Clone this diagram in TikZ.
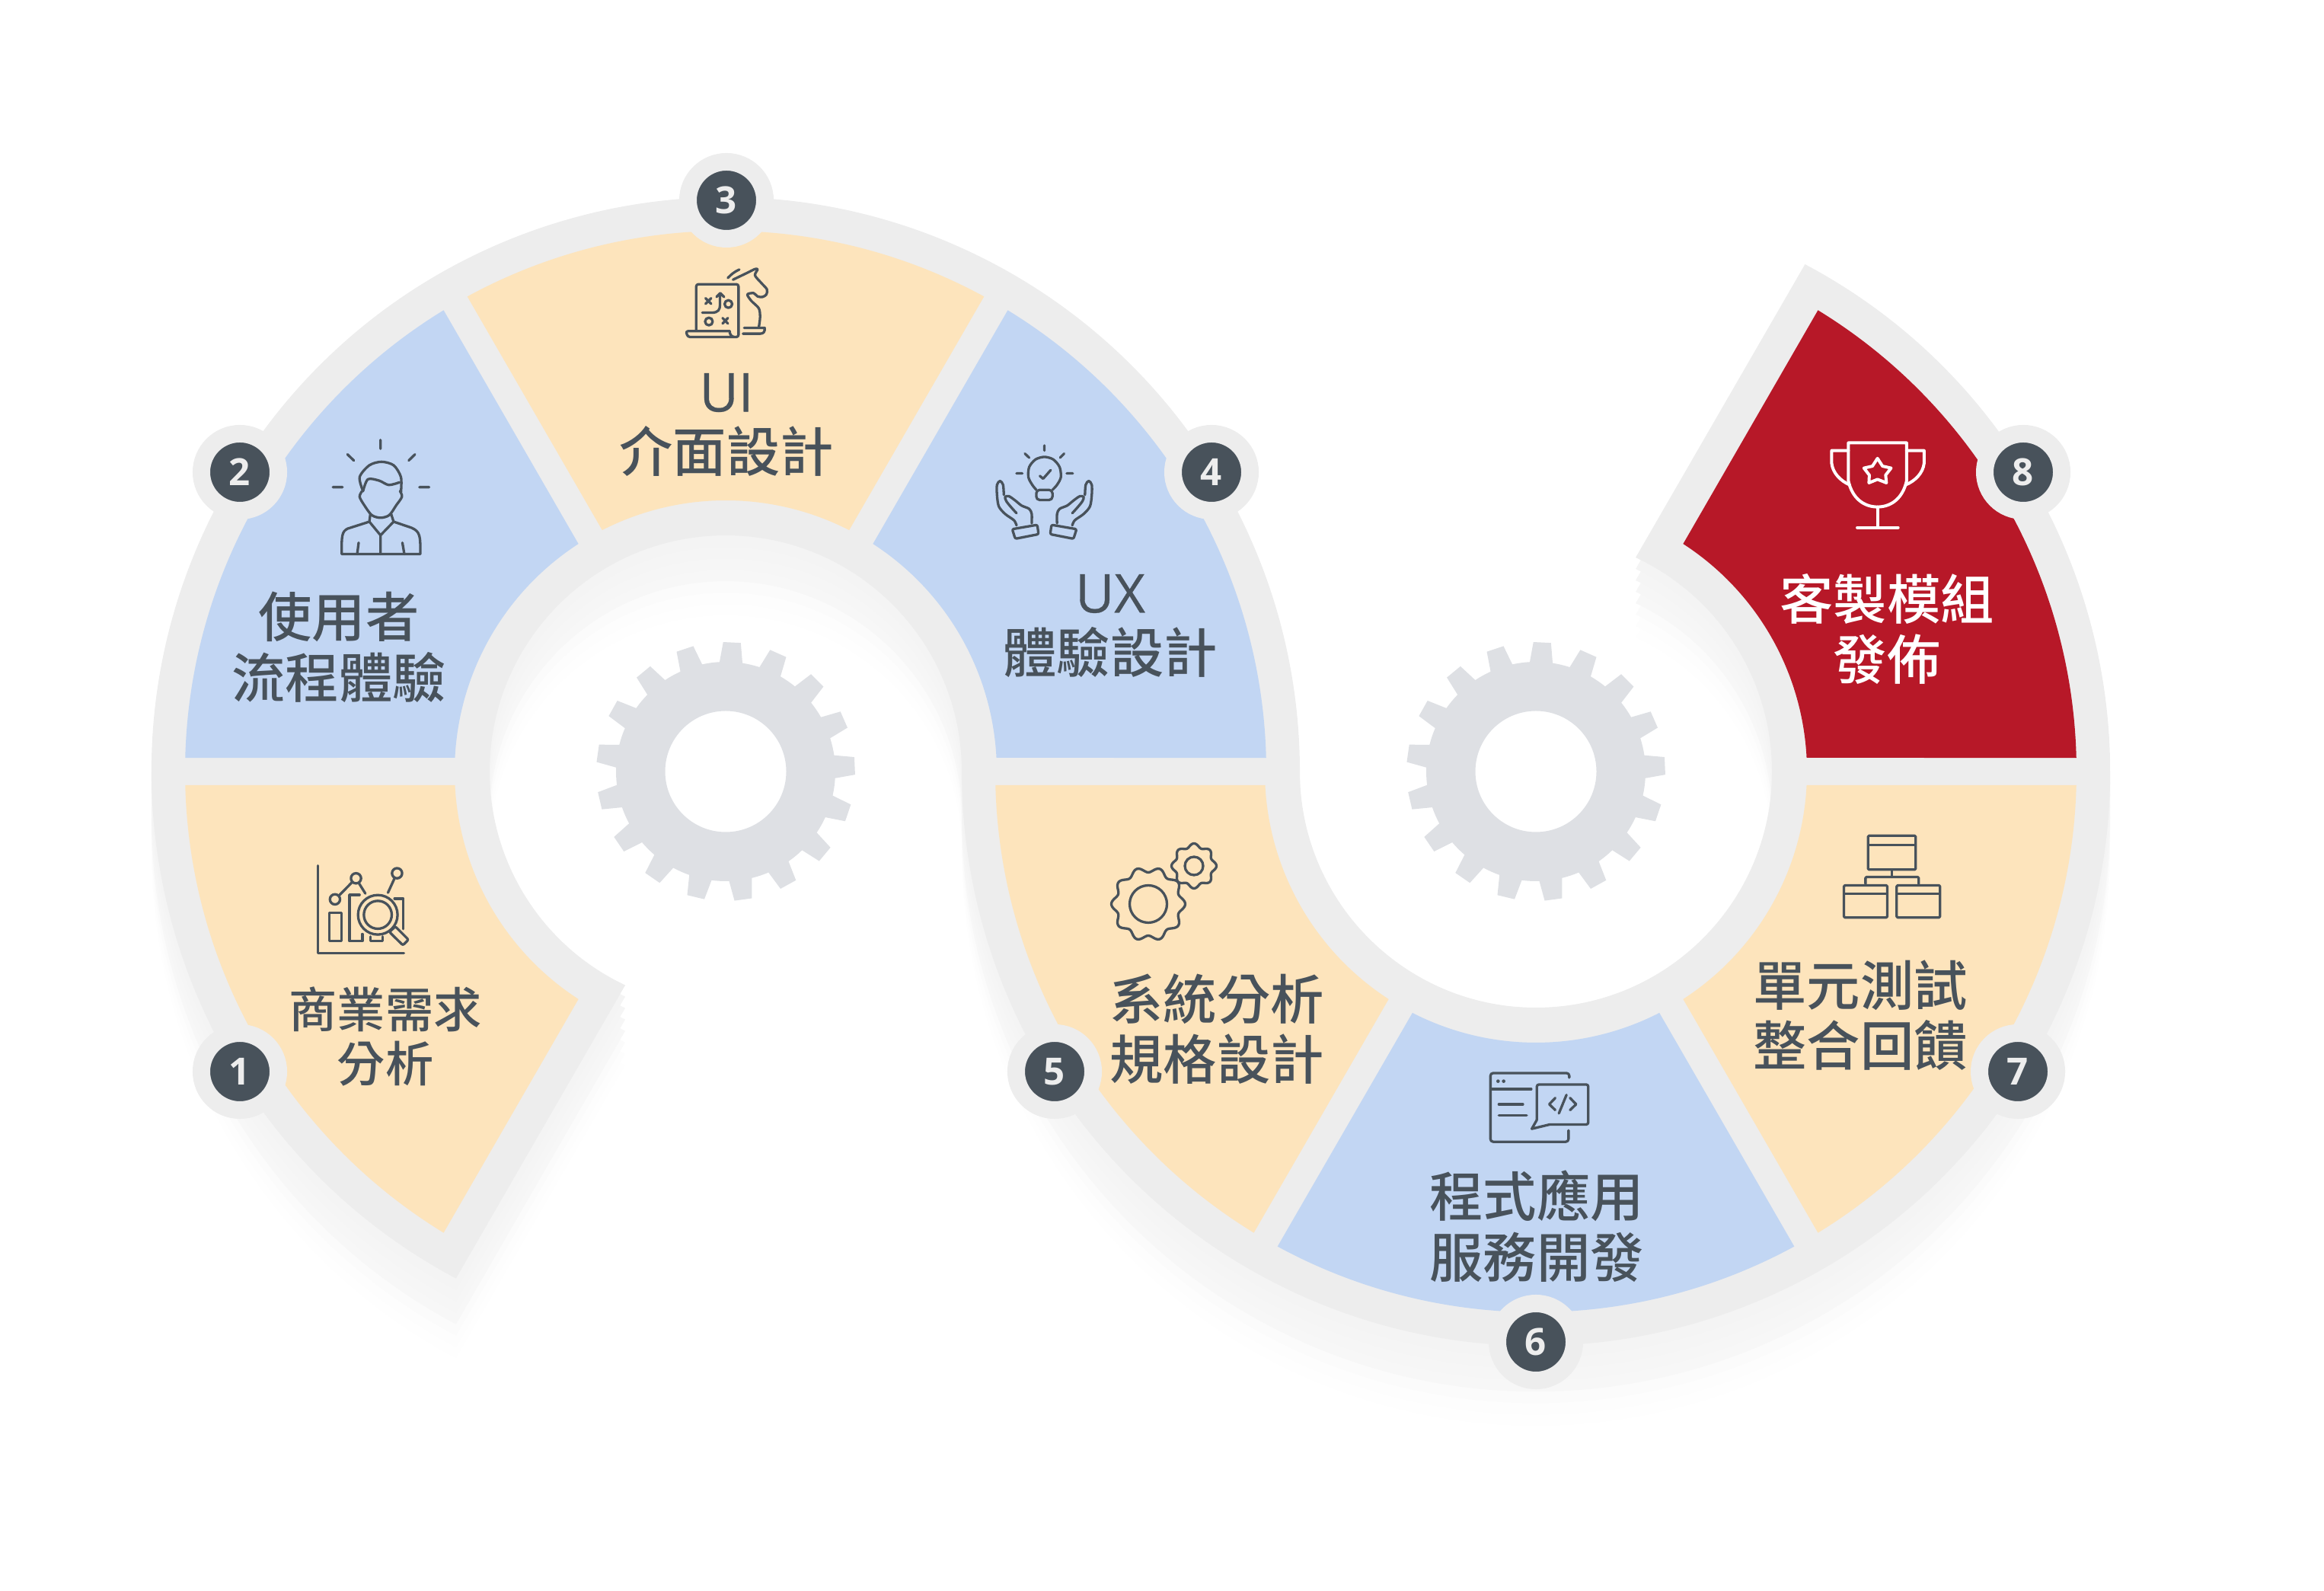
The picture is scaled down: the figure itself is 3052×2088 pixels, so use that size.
\documentclass[tikz,border=0pt]{standalone}
\usepackage{fontspec}
\setmainfont{Noto Sans CJK TC Medium}
\newfontfamily\latinfont{Open Sans}[RawFeature={embolden=0.5}]
\newfontfamily\badgefont{Open Sans}
\usetikzlibrary{calc}
\definecolor{bandgray}{HTML}{EDEDED}
\definecolor{geargray}{HTML}{DEE0E4}
\definecolor{inkdark}{HTML}{48525B}
\definecolor{segyellow}{HTML}{FDE4BC}
\definecolor{segblue}{HTML}{C2D6F3}
\definecolor{segred}{HTML}{B71828}
\tikzset{
  stepbadge/.style={circle,fill=inkdark,draw=bandgray,line width=0.23cm,minimum size=1.01cm,inner sep=0pt,text=bandgray,font=\badgefont\bfseries\fontsize{14}{14}\selectfont},
  steplabel/.style={align=center,text=inkdark,inner sep=0pt,font=\fontsize{20}{22.6}\selectfont},
  smalllabel/.style={steplabel,font=\fontsize{18}{20.2}\selectfont},
  icon/.style={draw=inkdark,line width=0.033cm,line join=round,line cap=round},
  whiteicon/.style={icon,draw=white,line width=0.04cm},
  triple/.style={x=0.003333cm,y=-0.003333cm},
  wide/.style={x=0.006378cm,y=-0.00574cm},
}
\newcommand{\bandoutline}{(598.8,409.4) arc[start angle=241.98,end angle=0,radius=754] arc[start angle=180,end angle=425,radius=310] -- (2370.4,1741) arc[start angle=62.05,end angle=-180,radius=754] arc[start angle=0,end angle=244.81,radius=310] -- cycle}
\newcommand{\ringseg}[4]{\fill[#4] (#1) ++({#2+1.45}:710) arc[start angle=#2+1.45,end angle=#3-1.45,radius=710] -- ($(#1)+({#3-2.9}:356)$) arc[start angle=#3-2.9,end angle=#2+2.9,radius=356] -- cycle;}
\newcommand{\cogwheel}[1]{\fill[geargray,even odd rule,shift={(#1)}] (93.2:144) \foreach \k [evaluate=\k as \a using 87.2-\k*21.176] in {0,...,16} { -- ({\a+3.9}:170) -- ({\a-3.9}:170) -- ({\a-6}:144) arc[start angle=\a-6,end angle=\a-15.176,radius=144] } -- cycle (0,0) circle[radius=79.5];}
\begin{document}
\begin{tikzpicture}[x=0.01cm,y=0.01cm]
        \useasboundingbox (0,0) rectangle (3052,2088);
        \coordinate (C1) at (953,1075);
        \coordinate (C2) at (2017,1075);
        \foreach \off/\shade in {1.05/5,0.90/12,0.75/24,0.60/42,0.45/52,0.30/58,0.15/64} {
            \fill[bandgray!\shade,yshift=-\off cm] \bandoutline;
        }
        \fill[bandgray] \bandoutline;
        \cogwheel{C1}
        \cogwheel{C2}
        \ringseg{C1}{180}{240}{segyellow}
        \ringseg{C1}{120}{180}{segblue}
        \ringseg{C1}{60}{120}{segyellow}
        \ringseg{C1}{0}{60}{segblue}
        \ringseg{C2}{180}{240}{segyellow}
        \ringseg{C2}{240}{300}{segblue}
        \ringseg{C2}{300}{360}{segyellow}
        \ringseg{C2}{0}{60}{segred}
        \node[stepbadge] (badge1) at (315,681) {1};
        \node[stepbadge] (badge2) at (315,1468) {2};
        \node[stepbadge] (badge3) at (954,1825) {3};
        \node[stepbadge] (badge4) at (1591,1468) {4};
        \node[stepbadge] (badge5) at (1385,681) {5};
        \node[stepbadge] (badge6) at (2017,326) {6};
        \node[stepbadge] (badge7) at (2650,681) {7};
        \node[stepbadge] (badge8) at (2657,1468) {8};
        \node[smalllabel] (label1) at (506,727) {商業需求\\分析};
        \node[steplabel] (label2) at (445,1238) {使用者\\流程體驗};
        \node[steplabel] (label3) at (954,1530) {{\latinfont UI}\\介面設計};
        \node[steplabel] (label4) at (1458,1266) {{\latinfont UX}\\體驗設計};
        \node[steplabel] (label5) at (1598,737) {系統分析\\規格設計};
        \node[steplabel] (label6) at (2018,478) {程式應用\\服務開發};
        \node[steplabel] (label7) at (2443,755) {單元測試\\整合回饋};
        \node[steplabel,text=white] (label8) at (2478,1262) {客製模組\\發佈};
        \begin{scope}[shift={(380,988)},triple]
            \draw[icon] (112,110) -- (112,455) -- (452,455);
            \draw[icon] (157,295) rectangle (205,407);
            \draw[icon] (277,225) -- (237,225) -- (237,407) -- (288,407) -- (288,380);
            \draw[icon] (320,390) -- (320,407) -- (368,407) -- (368,390);
            \draw[icon] (415,240) -- (450,240) -- (450,360);
            \draw[icon] (180,243) circle[radius=20] (263,160) circle[radius=20] (425,140) circle[radius=20];
            \draw[icon] (196,228) -- (246,177) (275,180) -- (300,220) (415,160) -- (389,217);
            \draw[icon] (349,304) circle[radius=78] (349,304) circle[radius=55];
            \draw[icon,rounded corners=0.6pt] (395,372) -- (418,350) -- (470,402) -- (448,424) -- cycle;
        \end{scope}
        \begin{scope}[shift={(150,1938)},wide]
            \draw[icon] (548,745) -- (548,765) (480,778) -- (493,792) (619,778) -- (606,792) (450,853) -- (470,853) (628,853) -- (648,853);
            \draw[icon] plot[smooth] coordinates {(510,862) (505,875) (515,895) (530,917) (548,923) (566,917) (580,895) (592,875) (588,862)};
            \draw[icon] plot[smooth] coordinates {(512,862) (505,830) (525,803) (550,795) (575,803) (590,830) (590,865)};
            \draw[icon] plot[smooth] coordinates {(512,862) (522,835) (545,838) (565,848) (587,842)};
            \draw[icon] (527,915) -- (525,932) -- (480,948) .. controls (468,955) and (468,965) .. (468,1006) -- (630,1006) .. controls (630,965) and (630,955) .. (612,946) -- (575,932) -- (570,915);
            \draw[icon] (525,932) -- (548,963) -- (575,932) (548,963) -- (548,1006) (503,980) -- (500,1006) (593,980) -- (597,1006);
        \end{scope}
        \begin{scope}[shift={(890,1758)},triple]
            \draw[icon,rounded corners=0.8pt] (73,312) -- (73,130) -- (240,130) -- (240,338) -- (40,338) -- (32,315) -- (205,315);
            \draw[icon] (205,315) .. controls (205,328) and (212,336) .. (222,338);
            \draw[icon] (110,185) -- (132,207) (132,185) -- (110,207) (177,263) -- (198,285) (198,263) -- (177,285);
            \draw[icon] (200,208) circle[radius=15] (123,277) circle[radius=15];
            \draw[icon] (97,242) -- (135,242) .. controls (160,242) and (167,230) .. (167,210) -- (167,168) (153,180) -- (168,165) -- (183,180);
            \draw[icon] (198,105) .. controls (212,90) and (225,80) .. (243,72);
            \draw[icon] plot[smooth] coordinates {(218,112) (270,87) (305,70) (315,72) (305,95) (330,125) (352,150) (350,170) (335,180) (315,178) (300,165) (275,170) (290,195) (320,225) (325,260) (320,300)};
            \draw[icon] (262,302) -- (343,302) .. controls (345,318) and (338,325) .. (325,325) -- (257,325);
        \end{scope}
        \begin{scope}[shift={(1290,1518)},triple]
            \draw[icon] (245,45) -- (245,65) (168,77) -- (185,93) (323,77) -- (307,93) (135,155) -- (158,155) (333,155) -- (357,155);
            \draw[icon] plot[smooth] coordinates {(213,220) (197,200) (182,170) (185,130) (210,100) (245,90) (280,100) (305,130) (310,170) (295,200) (277,220)};
            \draw[icon,rounded corners=1.3pt] (213,220) -- (213,260) -- (277,260) -- (277,220) -- cycle;
            \draw[icon] (227,165) -- (240,176) -- (270,142);
            \draw[icon] plot[smooth] coordinates {(135,312) (115,290) (95,265) (90,248) (105,245) (130,262) (155,282) (185,295) (195,315) (195,352)};
            \draw[icon] plot[smooth] coordinates {(135,360) (125,340) (90,315) (65,285) (58,240) (58,200) (70,185) (82,200) (85,240)};
            \draw[icon,rounded corners=0.6pt] (118,375) -- (217,358) -- (222,395) -- (130,413) -- cycle;
            \draw[icon] plot[smooth] coordinates {(355,312) (375,290) (395,265) (400,248) (385,245) (360,262) (335,282) (305,295) (295,315) (295,352)};
            \draw[icon] plot[smooth] coordinates {(355,360) (365,340) (400,315) (425,285) (432,240) (432,200) (420,185) (408,200) (405,240)};
            \draw[icon,rounded corners=0.6pt] (372,375) -- (273,358) -- (268,395) -- (360,413) -- cycle;
        \end{scope}
        \draw[icon,shift={(1508,901)}] plot[domain=0:360,samples=145,smooth] (\x:{45+3.5*cos(10*\x)}) (0,0) circle[radius=24.5];
        \draw[icon,shift={(1568,951)}] plot[domain=0:360,samples=145,smooth] (\x:{27+2.5*cos(8*\x)}) (0,0) circle[radius=12];
        \begin{scope}[shift={(1950,688)},triple]
            \draw[icon,rounded corners=1pt] (333,45) -- (333,27) -- (22,27) -- (22,298) -- (330,298) -- (330,253);
            \draw[icon] (25,90) -- (183,90) (55,150) -- (150,150) (55,193) -- (165,193);
            \fill[inkdark] (52,59) circle[radius=7] (74,59) circle[radius=7];
            \draw[icon,rounded corners=0.8pt] (205,212) -- (205,72) -- (408,72) -- (408,230) -- (255,230);
            \draw[icon] (255,230) -- (185,247) -- (205,212);
            \draw[icon] (278,125) -- (254,150) -- (278,173) (336,125) -- (360,150) -- (336,173) (322,113) -- (292,186);
        \end{scope}
        \begin{scope}[shift={(2350,1038)},triple]
            \draw[icon,rounded corners=0.4pt] (310,142) rectangle (498,276);
            \draw[icon] (312,178) -- (496,178) (404,276) -- (404,305);
            \draw[icon,rounded corners=0.4pt] (300,332) -- (300,305) -- (510,305) -- (510,332);
            \draw[icon,rounded corners=0.4pt] (215,338) rectangle (386,465);
            \draw[icon,rounded corners=0.4pt] (423,338) rectangle (594,465);
            \draw[icon] (217,372) -- (384,372) (425,372) -- (592,372);
        \end{scope}
        \begin{scope}[shift={(2050,1788)},x=0.0051cm,y=-0.0051cm]
            \draw[whiteicon] (740,552) -- (890,552) -- (890,650) .. controls (880,695) and (850,717) .. (815,717) .. controls (780,717) and (750,695) .. (740,650) -- cycle;
            \draw[whiteicon] (740,572) -- (697,572) -- (697,605) .. controls (700,630) and (720,650) .. (743,660);
            \draw[whiteicon] (890,572) -- (935,572) -- (935,605) .. controls (932,630) and (912,650) .. (888,660);
            \draw[whiteicon] (815,717) -- (815,768) (763,770) -- (868,770);
            \draw[whiteicon] (815,592) -- (828,612) -- (850,617) -- (836,635) -- (838,655) -- (815,646) -- (793,655) -- (794,635) -- (780,617) -- (802,612) -- cycle;
        \end{scope}
\end{tikzpicture}
\end{document}
